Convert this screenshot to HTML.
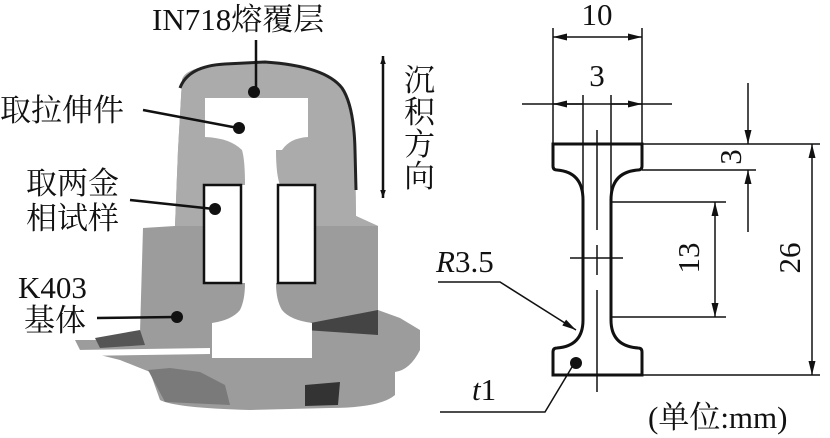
<!DOCTYPE html>
<html><head><meta charset="utf-8"><style>
html,body{margin:0;padding:0;background:#fff;}
svg{display:block;}
text{font-family:"Liberation Serif","Noto Serif CJK SC","Noto Sans CJK SC",serif;fill:#111;}
</style></head><body>
<svg width="830" height="438" viewBox="0 0 830 438" xmlns="http://www.w3.org/2000/svg">
<defs>
<marker id="a" viewBox="0 0 10 10" refX="10" refY="5" markerWidth="8" markerHeight="8" orient="auto-start-reverse" markerUnits="userSpaceOnUse"><path d="M0,1.5 L10,5 L0,8.5 Z" fill="#111"/></marker>
<marker id="b" viewBox="0 0 10 10" refX="10" refY="5" markerWidth="14" markerHeight="14" orient="auto-start-reverse" markerUnits="userSpaceOnUse"><path d="M0,2.5 L10,5 L0,7.5 Z" fill="#111"/></marker>
</defs>
<g>
<path d="M182,80 Q185,66 230,64 L265,62 Q330,66 345,90 Q356,110 355,150 L356,216 L378,226 L378,310 L400,318 L420,330 L420,350 Q410,370 395,372 L395,395 Q380,408 330,408 L250,410 Q175,408 160,400 L150,372 L120,360 L80,350 L75,340 L95,340 L130,338 L140,332 L143,228 L175,226 L178,150 Z" fill="#9c9c9c"/>
<path d="M182,80 Q185,66 230,64 L265,62 Q330,66 345,90 Q356,110 355,150 L356,216 L378,226 L175,226 L178,150 Z" fill="#ababab"/>
<path d="M180,88 Q188,66 225,64 L265,62 Q325,66 342,88 Q354,106 355,150 L356,190" fill="none" stroke="#222" stroke-width="3"/>
<path d="M300,325 L378,310 L378,335 L305,330 Z" fill="#444"/>
<path d="M95,338 L140,330 L145,345 L100,348 Z" fill="#555"/>
<path d="M148,370 L170,368 L200,372 L225,385 L230,405 L165,402 Z" fill="#7a7a7a"/>
<path d="M305,385 L340,382 L338,405 L305,406 Z" fill="#333"/>
<path d="M75,350 L210,348 L210,354 L75,356 Z" fill="#fff"/>
<path d="M205,98 L308,98 L308,137 Q290,138 282,150 L276,150 Q276,175 280,185 L278,185 L278,283 L276,283 Q276,300 282,310 Q290,320 312,323 L312,358 L212,358 L212,323 Q232,320 240,310 Q245,300 245,283 L240,283 L240,185 L245,185 Q245,160 242,150 Q230,138 205,137 Z" fill="#fff"/>
<rect x="204" y="185" width="37" height="98" fill="#fff" stroke="#111" stroke-width="2.5"/>
<rect x="278" y="185" width="37" height="98" fill="#fff" stroke="#111" stroke-width="2.5"/>
<line x1="256" y1="40" x2="256" y2="90" stroke="#111" stroke-width="2.5"/><circle cx="254" cy="92" r="6" fill="#111"/>
<line x1="143" y1="110" x2="238" y2="128" stroke="#111" stroke-width="2.5"/><circle cx="239" cy="128" r="6" fill="#111"/>
<line x1="130" y1="200" x2="214" y2="209" stroke="#111" stroke-width="2.5"/><circle cx="215" cy="209" r="6" fill="#111"/>
<line x1="97" y1="318" x2="176" y2="317" stroke="#111" stroke-width="2.5"/><circle cx="177" cy="317" r="6" fill="#111"/>
<line x1="383" y1="56" x2="383" y2="198" stroke="#111" stroke-width="2.5" marker-start="url(#a)" marker-end="url(#a)"/>
</g>
<g font-size="31">
<text x="152" y="30">IN718熔覆层</text>
<text x="0" y="121">取拉伸件</text>
<text x="26" y="194">取两金</text>
<text x="26" y="229">相试样</text>
<text x="18" y="298">K403</text>
<text x="24" y="331">基体</text>
<text x="404" y="91">沉</text><text x="404" y="123">积</text><text x="404" y="155">方</text><text x="404" y="187">向</text>
</g>
<g stroke="#111" fill="none">
<path d="M553,144 L642,144 L642,166 Q642,170 638,170 Q611,172 611,200 L611,320 Q611,346 638,348 Q642,348 642,352 L642,375 L553,375 L553,352 Q553,348 557,348 Q583,346 583,320 L583,200 Q583,172 557,170 Q553,170 553,166 Z" stroke-width="3"/>
<g stroke-width="1.5">
<line x1="553" y1="28" x2="553" y2="144"/><line x1="642" y1="28" x2="642" y2="144"/>
<line x1="553" y1="37" x2="642" y2="37" marker-start="url(#b)" marker-end="url(#b)"/>
<line x1="583" y1="95" x2="583" y2="200"/><line x1="611" y1="95" x2="611" y2="200"/>
<line x1="522" y1="104" x2="672" y2="104"/>
<line x1="553" y1="104" x2="583" y2="104" marker-start="url(#b)"/>
<line x1="611" y1="104" x2="642" y2="104" marker-end="url(#b)"/>
<line x1="597" y1="130" x2="597" y2="230"/><line x1="597" y1="245" x2="597" y2="275"/><line x1="597" y1="290" x2="597" y2="392"/>
<line x1="570" y1="258" x2="623" y2="258"/>
<line x1="642" y1="144" x2="820" y2="144"/><line x1="642" y1="170" x2="756" y2="170"/><line x1="642" y1="375" x2="820" y2="375"/>
<line x1="748" y1="83" x2="748" y2="144" marker-end="url(#b)"/>
<line x1="748" y1="232" x2="748" y2="170" marker-end="url(#b)"/>
<line x1="611" y1="202" x2="726" y2="202"/><line x1="611" y1="317" x2="726" y2="317"/>
<line x1="715" y1="202" x2="715" y2="317" marker-start="url(#b)" marker-end="url(#b)"/>
<line x1="812" y1="144" x2="812" y2="375" marker-start="url(#b)" marker-end="url(#b)"/>
<polyline points="438,282 500,282 576,330" marker-end="url(#b)"/>
<polyline points="440,412 545,412 575,362"/>
</g>
</g>
<circle cx="576" cy="363" r="6" fill="#111"/>
<g font-size="31">
<text x="597" y="25" text-anchor="middle">10</text>
<text x="597" y="86" text-anchor="middle">3</text>
<text transform="translate(741,157) rotate(-90)" text-anchor="middle">3</text>
<text transform="translate(699,258) rotate(-90)" text-anchor="middle">13</text>
<text transform="translate(800,258) rotate(-90)" text-anchor="middle">26</text>
<text x="436" y="272"><tspan font-style="italic">R</tspan>3.5</text>
<text x="472" y="400"><tspan font-style="italic">t</tspan>1</text>
<text x="648" y="428">(单位:mm)</text>
</g>
</svg>
</body></html>
